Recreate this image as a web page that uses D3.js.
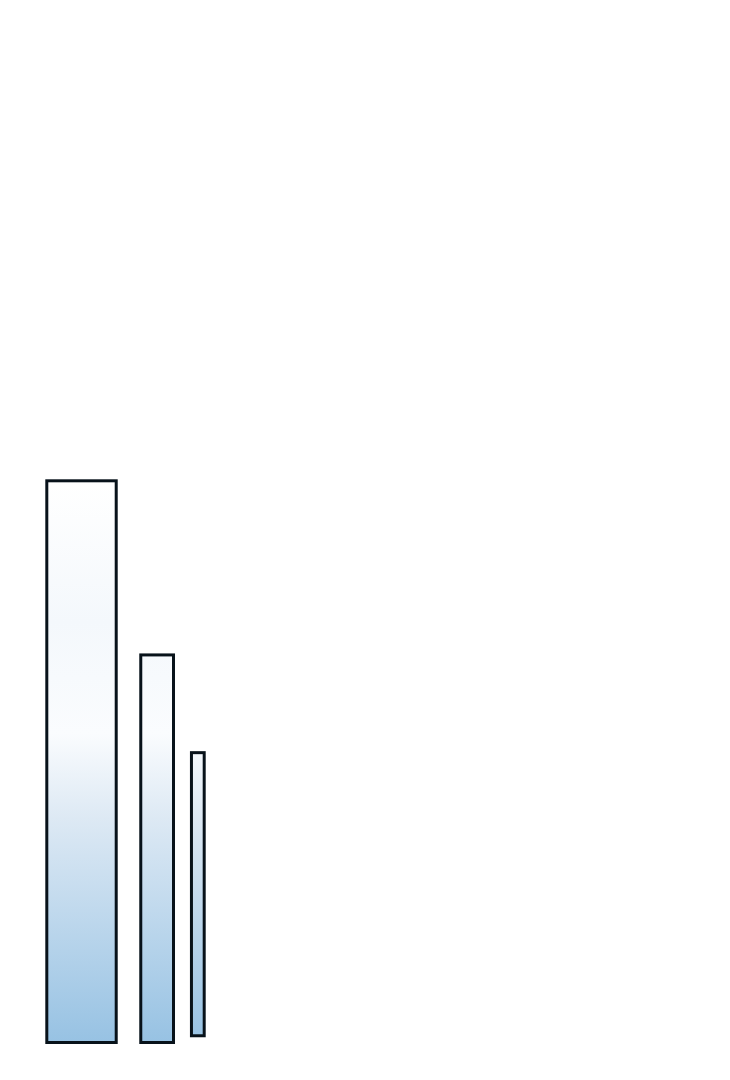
<!DOCTYPE html>
<html lang="en">
<head>
    <meta charset="UTF-8">
    <title>Bars</title>
    <script src="https://d3js.org/d3.v7.min.js"></script>
    <style>
        body { margin: 0; background: #fff; }
    </style>
</head>
<body>
    <svg width="730" height="1080"></svg>
    <script>
        // bar data (x in arbitrary units, y in value units)
        const names = ["A", "B", "C"];
        const starts = [0, 59.7, 91.9];
        const widths = [44.1, 20.8, 8.1];
        const values = [100, 69, 51.6];
        const bases = [0, 0, 1.2];

        const width = 730;
        const height = 1080;

        const svg = d3.select("svg")
            .attr("width", width)
            .attr("height", height);

        const x = d3.scaleLinear()
            .domain([0, 100])
            .range([46.8, 204.2]);

        const y = d3.scaleLinear()
            .domain([0, 100])
            .range([1042.5, 480.8]);

        const grad = svg.append("defs").append("linearGradient")
            .attr("id", "fade")
            .attr("gradientUnits", "userSpaceOnUse")
            .attr("x1", 0).attr("x2", 0)
            .attr("y1", y(100)).attr("y2", y(0));

        grad.selectAll("stop")
            .data([
                { o: 0, c: "#ffffff" },
                { o: 0.25, c: "#f4f8fc" },
                { o: 0.45, c: "#fafcfe" },
                { o: 0.6, c: "#dde9f4" },
                { o: 1, c: "#97c2e3" }
            ])
            .enter().append("stop")
            .attr("offset", d => d.o)
            .attr("stop-color", d => d.c);

        const bars = names.map((n, i) => ({ name: n, x0: starts[i], w: widths[i], v: values[i], b: bases[i] }));

        svg.selectAll(".bar")
            .data(bars)
            .enter()
            .append("rect")
            .attr("class", "bar")
            .attr("x", d => x(d.x0))
            .attr("width", d => x(d.x0 + d.w) - x(d.x0))
            .attr("y", d => y(d.v))
            .attr("height", d => y(d.b) - y(d.v))
            .attr("fill", "url(#fade)")
            .attr("stroke", "#08121a")
            .attr("stroke-width", 3);
    </script>
</body>
</html>
